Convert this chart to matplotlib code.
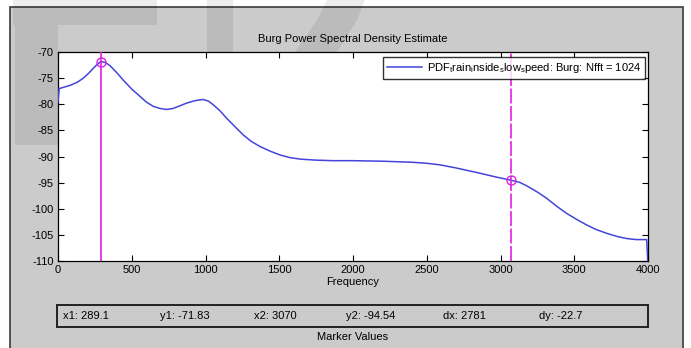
import matplotlib
matplotlib.use("Agg")
import matplotlib.pyplot as plt
from matplotlib.patches import Rectangle, Polygon

plt.rcParams["font.family"] = ["Liberation Sans", "DejaVu Sans"]
plt.rcParams["mathtext.fontset"] = "custom"
plt.rcParams["mathtext.rm"] = "Liberation Sans"
plt.rcParams["axes.unicode_minus"] = False

# PSD curve (Hz, dB/Hz)
freq = [0, 8, 81, 130, 172, 210, 240, 265, 289.1, 320, 352, 400, 443, 500, 556,
        600, 646, 690, 737, 780, 827, 870, 917, 950, 985, 1020, 1053, 1100, 1144,
        1200, 1257, 1310, 1370, 1440, 1505, 1570, 1641, 1750, 1867, 2000, 2200,
        2400, 2500, 2590, 2700, 2861, 2950, 3070, 3130, 3177, 3250, 3313, 3380,
        3449, 3520, 3584, 3650, 3720, 3790, 3855, 3920, 3991, 4000]
power = [-79.6, -77.0, -76.4, -75.8, -75.0, -74.0, -73.1, -72.4, -71.83, -72.0,
         -72.6, -74.0, -75.4, -77.1, -78.5, -79.6, -80.4, -80.8, -81.0, -80.8,
         -80.3, -79.8, -79.4, -79.2, -79.1, -79.4, -80.1, -81.3, -82.7, -84.3,
         -85.9, -87.1, -88.1, -89.0, -89.7, -90.2, -90.5, -90.7, -90.8, -90.8,
         -90.9, -91.1, -91.3, -91.6, -92.2, -93.2, -93.8, -94.54, -94.95, -95.6,
         -96.8, -98.0, -99.5, -100.9, -102.1, -103.1, -104.0, -104.7, -105.3,
         -105.7, -105.9, -105.9, -111.0]

x1, y1 = 289.1, -71.83
x2, y2 = 3070, -94.54
marker_texts = ["x1: 289.1", "y1: -71.83", "x2: 3070", "y2: -94.54", "dx: 2781", "dy: -22.7"]
marker_text_px = [63, 160, 254, 346, 443, 539]
legend_label = (r"PDF$_\mathrm{t}$rain$_\mathrm{i}$nside$_\mathrm{s}$"
                r"low$_\mathrm{s}$peed: Burg: Nfft = 1024")

W, H = 691, 348
GRAY = "#cbcbcb"
FS = 8


def fx(px):
    return px / W


def fy(py):
    return 1 - py / H


fig = plt.figure(figsize=(W / 100, H / 100), dpi=100, facecolor="white")

# figure panel with dark frame
fig.patches.append(Rectangle((fx(10), fy(352)), fx(683) - fx(10), fy(7) - fy(352),
                             transform=fig.transFigure, facecolor=GRAY,
                             edgecolor="#3a3a3a", linewidth=1.2, zorder=-3))

# faint "ER" watermark
wm = dict(transform=fig.transFigure, facecolor="black", edgecolor="none",
          alpha=0.075, zorder=-2)
fig.patches.append(Polygon([(fx(13), fy(0)), (fx(157), fy(0)), (fx(157), fy(25)),
                            (fx(58), fy(25)), (fx(58), fy(145)), (fx(15), fy(145)),
                            (fx(15), fy(25)), (fx(13), fy(25))], **wm))
fig.patches.append(Polygon([(fx(207), fy(0)), (fx(233), fy(0)), (fx(233), fy(52)),
                            (fx(207), fy(52))], **wm))
fig.patches.append(Polygon([(fx(327), fy(0)), (fx(365), fy(0)), (fx(357), fy(20)),
                            (fx(337), fy(52)), (fx(295), fy(52)), (fx(317), fy(20))], **wm))

ax = fig.add_axes([fx(58), fy(261), fx(648) - fx(58), fy(52) - fy(261)])
ax.set_facecolor("white")
ax.plot(freq, power, color="#4444dc", linewidth=1.1, label=legend_label, zorder=3)

ax.axvline(x1, color="#e020e0", linewidth=1.2, zorder=4)
vl = ax.axvline(x2, color="#e020e0", linewidth=1.2, zorder=4)
vl.set_dashes((9, 1.5))
ax.plot([x1, x2], [y1, y2], linestyle="none", marker="o", markersize=6.5,
        markerfacecolor="none", markeredgecolor="#e020e0", markeredgewidth=1.0, zorder=5)

ax.set_xlim(0, 4000)
ax.set_ylim(-110, -70)
ax.set_xticks(range(0, 4001, 500))
ax.set_yticks(range(-110, -69, 5))
ax.tick_params(direction="in", length=4, width=0.8, top=True, right=True,
               labelsize=FS, pad=3)
for s in ax.spines.values():
    s.set_linewidth(0.9)
    s.set_color("black")

ax.set_title("Burg Power Spectral Density Estimate", fontsize=FS, pad=7)
ax.set_xlabel("Frequency", fontsize=FS, labelpad=1)

leg = ax.legend(loc="upper right", bbox_to_anchor=(0.995, 0.976), borderaxespad=0,
                fontsize=FS, frameon=True, fancybox=False, borderpad=0.35,
                handlelength=3.2, handletextpad=0.4)
leg.get_frame().set_edgecolor("black")
leg.get_frame().set_linewidth(1.0)

# marker values box
fig.patches.append(Rectangle((fx(57), fy(327)), fx(648) - fx(57), fy(305) - fy(327),
                             transform=fig.transFigure, facecolor=GRAY,
                             edgecolor="#222222", linewidth=1.4, zorder=1))
for txt, px in zip(marker_texts, marker_text_px):
    fig.text(fx(px), fy(316), txt, fontsize=FS, ha="left", va="center")
fig.text(fx(353), fy(337), "Marker Values", fontsize=FS, ha="center", va="center")

fig.savefig("out.png", dpi=100, facecolor="white")
